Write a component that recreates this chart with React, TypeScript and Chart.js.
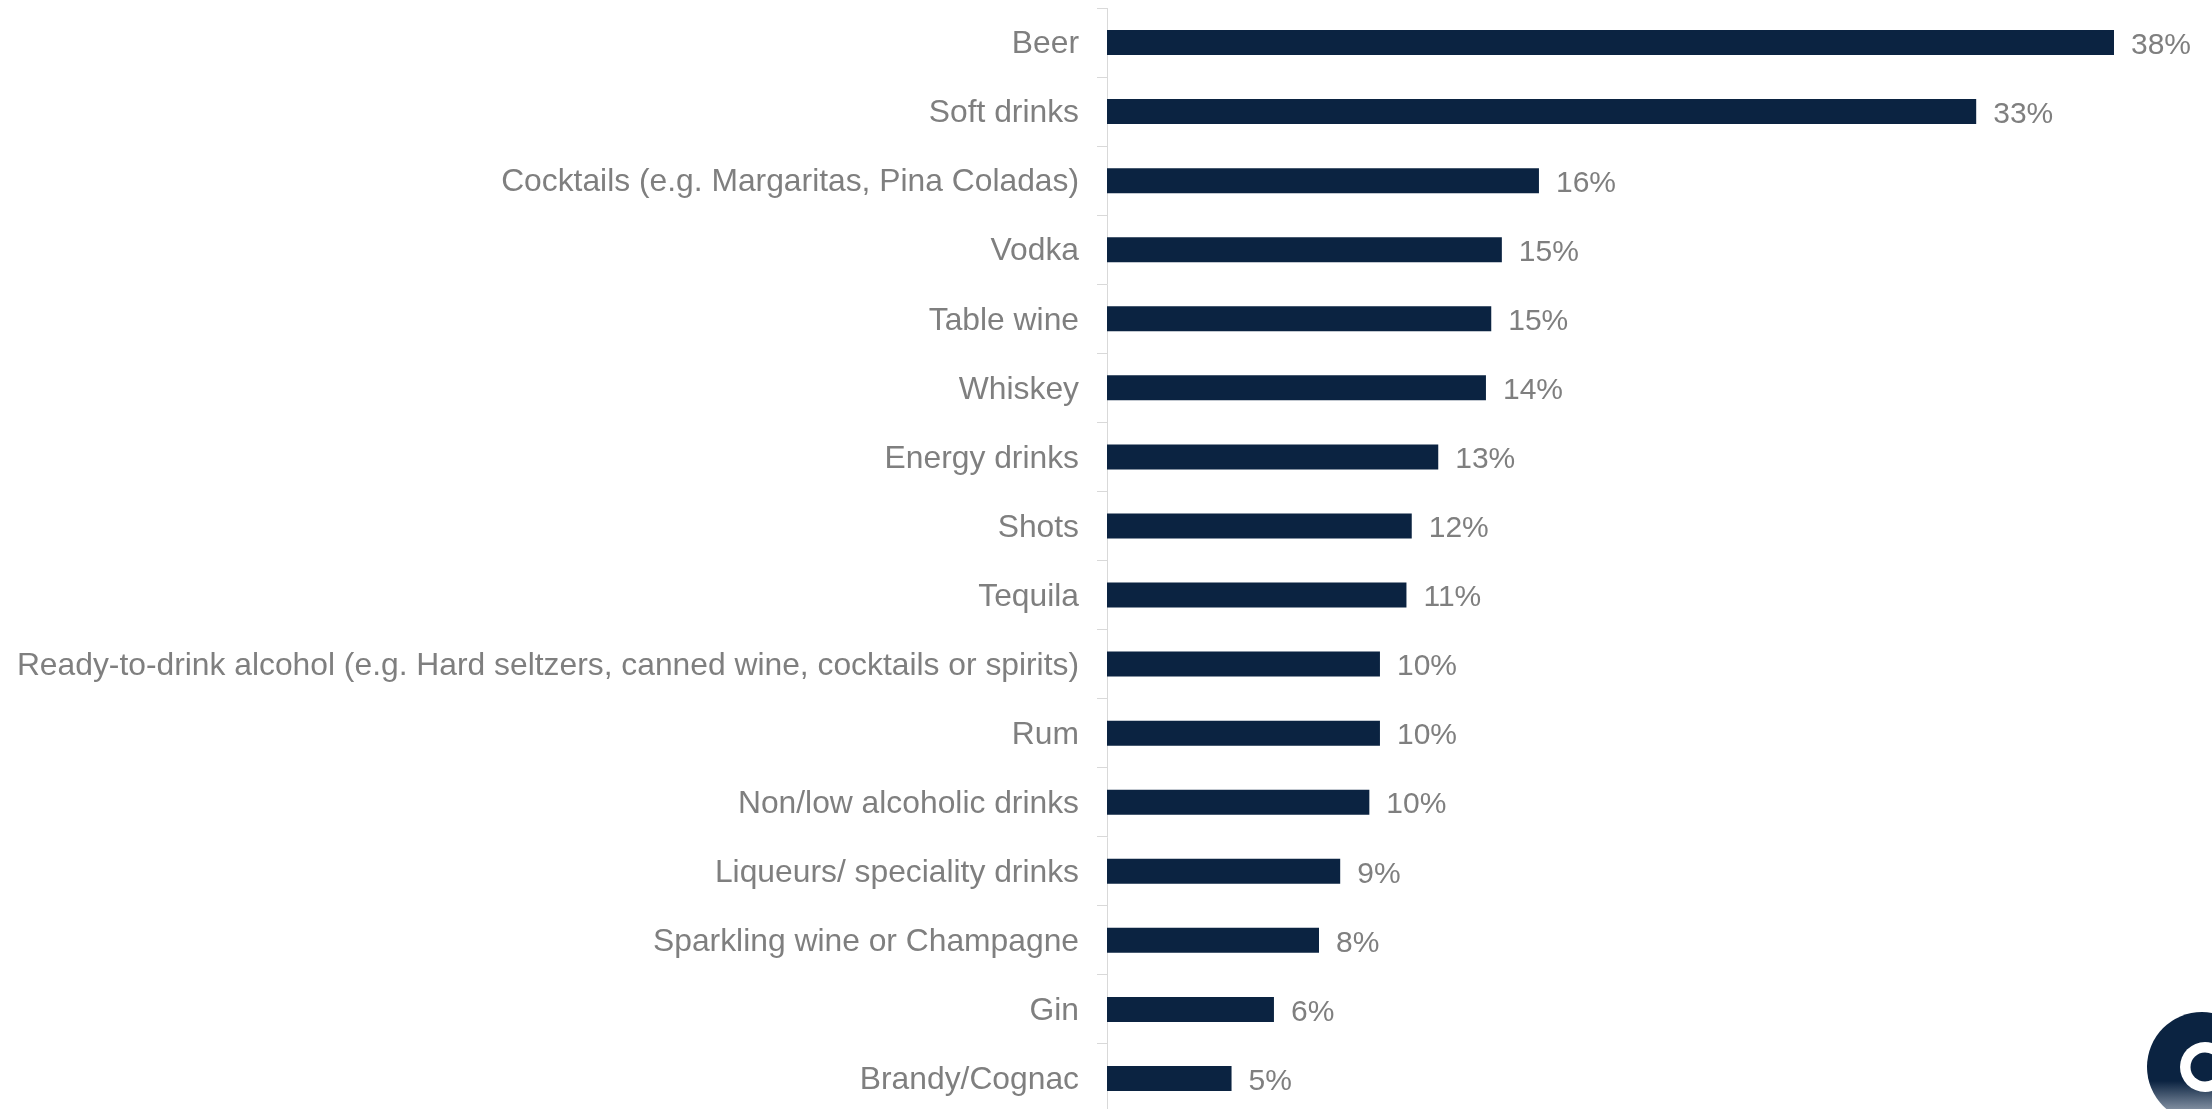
import React, { useEffect, useRef } from 'react';
import { Chart, registerables } from 'chart.js';

Chart.register(...registerables);

const categories = [
  'Beer',
  'Soft drinks',
  'Cocktails (e.g. Margaritas, Pina Coladas)',
  'Vodka',
  'Table wine',
  'Whiskey',
  'Energy drinks',
  'Shots',
  'Tequila',
  'Ready-to-drink alcohol (e.g. Hard seltzers, canned wine, cocktails or spirits)',
  'Rum',
  'Non/low alcoholic drinks',
  'Liqueurs/ speciality drinks',
  'Sparkling wine or Champagne',
  'Gin',
  'Brandy/Cognac',
];

const values = [38.0, 32.8, 16.3, 14.9, 14.5, 14.3, 12.5, 11.5, 11.3, 10.3, 10.3, 9.9, 8.8, 8.0, 6.3, 4.7];

const valueLabels = ['38%', '33%', '16%', '15%', '15%', '14%', '13%', '12%', '11%', '10%', '10%', '10%', '9%', '8%', '6%', '5%'];

const BAR_COLOR = '#0b2341';
const TEXT_COLOR = '#7f7f7f';
const AXIS_COLOR = '#d9d9d9';
const FONT = "'Liberation Sans', Arial, Helvetica, sans-serif";

export default function App() {
  const ref = useRef<HTMLCanvasElement>(null);

  useEffect(() => {
    const canvas = ref.current;
    if (!canvas) return;

    const valueLabelPlugin = {
      id: 'valueLabels',
      afterDatasetsDraw(chart: any) {
        const ctx = chart.ctx;
        const meta = chart.getDatasetMeta(0);
        ctx.save();
        ctx.font = `30px ${FONT}`;
        ctx.fillStyle = TEXT_COLOR;
        ctx.textAlign = 'left';
        ctx.textBaseline = 'middle';
        meta.data.forEach((bar: any, i: number) => {
          ctx.fillText(valueLabels[i], bar.x + 17, bar.y + 3);
        });
        ctx.restore();
      },
    };

    const logoPlugin = {
      id: 'logo',
      afterDraw(chart: any) {
        const ctx = chart.ctx;
        ctx.save();
        const grad = ctx.createLinearGradient(0, 1081, 0, 1112);
        grad.addColorStop(0, BAR_COLOR);
        grad.addColorStop(1, '#8a97a8');
        ctx.fillStyle = grad;
        ctx.beginPath();
        ctx.arc(2202, 1067, 55, 0, Math.PI * 2);
        ctx.fill();
        ctx.fillStyle = '#ffffff';
        ctx.beginPath();
        ctx.arc(2205, 1067, 25, 0, Math.PI * 2);
        ctx.fill();
        ctx.fillStyle = grad;
        ctx.beginPath();
        ctx.arc(2205, 1067, 14.5, 0, Math.PI * 2);
        ctx.fill();
        ctx.restore();
      },
    };

    const chart = new Chart(canvas, {
      type: 'bar',
      data: {
        labels: categories,
        datasets: [
          {
            data: values,
            backgroundColor: BAR_COLOR,
            borderWidth: 0,
            barPercentage: 0.362,
            categoryPercentage: 1,
          },
        ],
      },
      options: {
        indexAxis: 'y',
        responsive: false,
        animation: false,
        layout: { padding: { top: 8, right: 45, left: 0, bottom: 0 } },
        plugins: {
          legend: { display: false },
          tooltip: { enabled: false },
        },
        scales: {
          x: { display: false, min: 0, max: 40 },
          y: {
            grid: {
              display: true,
              drawOnChartArea: false,
              drawTicks: true,
              tickLength: 10,
              color: AXIS_COLOR,
              lineWidth: 1,
              offset: true,
            },
            border: { display: true, color: AXIS_COLOR, width: 1 },
            ticks: {
              color: TEXT_COLOR,
              font: { family: FONT, size: 31.8 },
              padding: 18,
              labelOffset: 2,
              autoSkip: false,
            },
            afterFit(scale: any) {
              scale.width = 1107;
              scale.paddingTop = 0;
              scale.paddingBottom = 0;
            },
          },
        },
      },
      plugins: [valueLabelPlugin, logoPlugin],
    } as any);

    return () => chart.destroy();
  }, []);

  return (
    <div
      style={{
        position: 'absolute',
        left: 0,
        top: 0,
        width: 2212,
        height: 1109,
        overflow: 'hidden',
        background: '#ffffff',
      }}
    >
      <canvas ref={ref} width={2212} height={1113} style={{ display: 'block' }} />
    </div>
  );
}
